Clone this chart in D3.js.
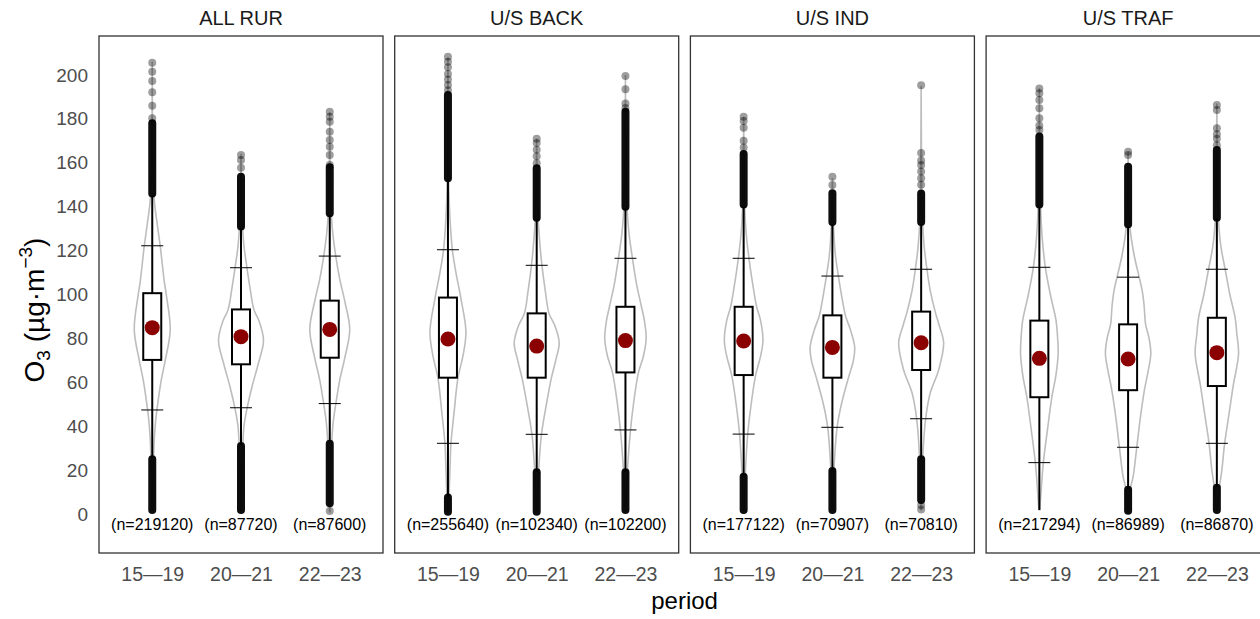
<!DOCTYPE html>
<html><head><meta charset="utf-8">
<script src="https://cdn.jsdelivr.net/npm/d3@7"></script>
<style>html,body{margin:0;padding:0;background:#fff;}svg{display:block;font-family:"Liberation Sans",Arial,sans-serif;}</style>
</head><body><svg id="c" width="1260" height="619"></svg>
<script>
const panels = ["ALL RUR", "U/S BACK", "U/S IND", "U/S TRAF"];
const periods = ["15—19", "20—21", "22—23"];
const yTicks = [0, 20, 40, 60, 80, 100, 120, 140, 160, 180, 200];
const nCounts = [[219120, 87720, 87600], [255640, 102340, 102200], [177122, 70907, 70810], [217294, 86989, 86870]];
const q1 = [[70.2, 68.2, 71.2], [62.1, 62.1, 64.5], [63.3, 62.1, 65.6], [53.2, 56.4, 58.3]];
const q3 = [[100.6, 93.2, 97.2], [98.6, 91.4, 94.4], [94.4, 90.5, 92.2], [88.1, 86.4, 89.4]];
const means = [[84.9, 80.8, 84.1], [79.7, 76.5, 79.0], [78.8, 75.9, 78.0], [70.9, 70.6, 73.5]];
const p05 = [[47.4, 48.4, 50.3], [32.2, 36.3, 38.3], [36.4, 39.5, 43.4], [23.4, 30.4, 32.2]];
const p95 = [[122.2, 112.2, 117.5], [120.4, 113.3, 116.5], [116.5, 108.4, 111.5], [112.4, 107.9, 111.5]];
const whiskerLo = [[25.5, 31.4, 32.7], [7.9, 19.3, 19.3], [17.3, 20, 25.4], [1.8, 11.4, 12.4]];
const whiskerHi = [[145.3, 130.1, 136.2], [152.2, 133.9, 139.3], [140, 132.1, 132.1], [140, 130.9, 134.6]];
// dense runs of outliers [low, high]
const upperRuns = [[[146, 178], [131, 153.7], [137, 158]], [[153, 190.9], [135, 157.5], [140, 183.3]], [[141, 164], [133, 146.1], [133, 146]], [[141, 172], [132, 158.2], [135, 165.8]]];
const lowerRuns = [[[1.8, 25], [1.8, 31], [4.9, 32]], [[1, 7.5], [1, 19], [1.8, 19]], [[1.8, 17], [1.8, 19.6], [6.4, 25]], [null, [1.5, 11], [1.8, 12]]];
const upperSparse = [
  [[205.6, 201.5, 197.3, 192.1, 186, 180.3], [163.5, 161.3, 157.8], [183.3, 181, 178.7, 174.2, 170.4, 167.3, 163.6, 159]],
  [[208.3, 206, 203.5, 200.5, 198, 195.5, 193], [171, 169, 166, 163, 159.8], [199.5, 193.5, 187, 185]],
  [[181, 179, 176, 170, 167], [153.7, 149.9], [195.3, 164.5, 161, 159, 156, 153, 150]],
  [[193.9, 191.7, 188.6, 184.8, 180.3, 177, 175], [165, 163.6], [186.3, 184, 175.7, 173, 171, 168]]
];
const lowerSparse = [[[], [], [1.4]], [[], [], []], [[], [], [4, 2]], [[], [], []]];
// violin outlines: [value, relative density]
const violinAllRur = [
  [[2, 0.3], [20, 1], [34, 2], [43, 3.5], [52, 6], [61, 9], [70, 13], [84, 18], [100, 14], [106, 12], [122, 8], [132, 5], [143, 2], [160, 0.6], [180, 0.2], [206, 0]],
  [[2, 0.3], [20, 1], [31, 1.8], [40, 3], [48, 6], [58, 11], [68, 17], [79, 22.5], [88, 18], [93, 13], [103, 9], [112, 6], [122, 3], [131, 1.5], [145, 0.5], [164, 0]],
  [[1, 0.2], [20, 1], [33, 2], [42, 3.5], [50, 6], [61, 10], [71, 15], [84, 20], [97, 15], [107, 10], [117.5, 6], [128, 3], [137, 1.5], [160, 0.4], [183, 0]]
];
const violinBack = [
  [[1, 0.3], [8, 1], [20, 2], [32, 3], [47, 6.3], [62, 10], [72, 15], [83, 18], [98.6, 12.8], [110, 8], [120, 4.5], [135, 2], [152, 0.7], [175, 0.3], [208, 0]],
  [[1, 0.3], [10, 1], [20, 2], [36, 4.7], [50, 9.7], [62, 14.7], [70, 19], [78, 22.5], [86, 18], [91.4, 12.3], [102, 8.5], [113, 5.3], [124, 3], [134, 1.5], [150, 0.5], [171, 0]],
  [[1, 0.3], [10, 1], [20, 2], [38, 5], [50, 8], [64.5, 13], [72, 18], [80, 20.7], [88, 19], [94.4, 16], [105, 11], [116.5, 7], [128, 3.5], [140, 1.5], [160, 0.5], [200, 0]]
];
const violinInd = [
  [[2, 0.3], [17, 1.5], [36, 4], [50, 7.5], [63.3, 12], [72, 17], [79, 19.3], [88, 17], [94.4, 13], [105, 9], [116.5, 5.3], [128, 2.5], [140, 1], [160, 0.4], [181, 0]],
  [[2, 0.3], [20, 1.5], [39.5, 4.7], [50, 9], [62, 16], [70, 21], [76, 22.3], [84, 18], [90.5, 13], [100, 9], [108.4, 6], [118, 3], [130, 1.2], [153, 0]],
  [[2, 0.3], [25, 1.5], [43.4, 4.5], [55, 9], [65.6, 17.5], [78, 22.5], [86, 18], [92.2, 14], [102, 9], [111.5, 5.8], [122, 3], [135, 1.2], [160, 0.4], [195, 0]]
];
const violinTraf = [
  [[2, 0.5], [12, 2], [23.4, 4], [38, 8], [53.2, 12.5], [63, 16.5], [73, 18.8], [82, 18], [88.1, 16.7], [100, 11], [112.4, 6], [125, 3], [140, 1.2], [165, 0.4], [194, 0]],
  [[1, 0.3], [11, 2], [17, 5], [30.4, 8.7], [43, 12], [56.4, 16.3], [65, 20], [73, 22.7], [80, 21], [86.4, 17.5], [95, 16], [102, 14], [108, 11], [118, 6], [130, 2], [145, 0.6], [165, 0]],
  [[2, 0.3], [12, 2.5], [20, 5], [32.2, 7.8], [45, 12], [58.3, 16.3], [73, 21.7], [82, 20], [89.4, 18.3], [100, 13], [111.5, 8.3], [122, 4], [135, 1.5], [160, 0.5], [187, 0]]
];
const violins = [violinAllRur, violinBack, violinInd, violinTraf];

const svg = d3.select("#c");
const panelLeft0 = 99, panelW = 284, panelStep = 295.7, panelTop = 36, panelBottom = 553;
const y = d3.scaleLinear().domain([0, 200]).range([514, 75]);
const w = d3.scaleLinear().domain([0, 1]).range([0, 1]);
const fx = d3.scaleBand().domain(panels).range([panelLeft0, panelLeft0 + panelStep * 4]).paddingInner(0).paddingOuter(0);

// y axis labels
const yAxis = d3.axisLeft(y).tickValues(yTicks).tickSize(0).tickPadding(11);
const ga = svg.append("g").attr("transform", `translate(${panelLeft0},0)`).call(yAxis);
ga.select(".domain").remove();
ga.selectAll("text").attr("font-size", 19).attr("fill", "#4d4d4d").attr("font-family", "Liberation Sans, Arial, sans-serif");

panels.forEach((p, pi) => {
  const left = fx(p);
  const x = d3.scalePoint().domain(periods).range([left, left + panelW]).padding(0.6);
  const g = svg.append("g");
  g.append("text").attr("x", left + panelW / 2).attr("y", 25).attr("text-anchor", "middle")
    .attr("font-size", 20).attr("fill", "#1a1a1a").text(p);
  // x axis
  const xa = g.append("g").attr("transform", `translate(0,${panelBottom})`)
    .call(d3.axisBottom(x).tickSize(0).tickPadding(14));
  xa.select(".domain").remove();
  xa.selectAll("text").attr("font-size", 19.5).attr("fill", "#4d4d4d").attr("font-family", "Liberation Sans, Arial, sans-serif");

  periods.forEach((per, ci) => {
    const cx = x(per);
    const prof = violins[pi][ci];
    const area = d3.area().curve(d3.curveCatmullRom.alpha(0.5))
      .y(d => y(d[0])).x0(d => cx - w(d[1])).x1(d => cx + w(d[1]));
    g.append("path").attr("d", area(prof)).attr("fill", "none")
      .attr("stroke", "#bdbdbd").attr("stroke-width", 1.6);
    // whisker
    g.append("line").attr("x1", cx).attr("x2", cx)
      .attr("y1", y(whiskerLo[pi][ci])).attr("y2", y(whiskerHi[pi][ci]))
      .attr("stroke", "#000").attr("stroke-width", 2);
    // crossbars
    [p05[pi][ci], p95[pi][ci]].forEach(v => {
      g.append("line").attr("x1", cx - 11).attr("x2", cx + 11).attr("y1", y(v)).attr("y2", y(v))
        .attr("stroke", "#000").attr("stroke-width", 1);
    });
    // outliers dense runs
    [upperRuns[pi][ci], lowerRuns[pi][ci]].forEach(r => {
      if (!r) return;
      g.append("rect").attr("x", cx - 4).attr("width", 8)
        .attr("y", y(r[1]) - 4).attr("height", y(r[0]) - y(r[1]) + 8)
        .attr("rx", 4).attr("fill", "#000").attr("fill-opacity", 0.95);
    });
    upperSparse[pi][ci].concat(lowerSparse[pi][ci]).forEach(v => {
      g.append("circle").attr("cx", cx).attr("cy", y(v)).attr("r", 4)
        .attr("fill", "#000").attr("fill-opacity", 0.38);
    });
    // box
    g.append("rect").attr("x", cx - 9).attr("width", 18)
      .attr("y", y(q3[pi][ci])).attr("height", y(q1[pi][ci]) - y(q3[pi][ci]))
      .attr("fill", "#fff").attr("stroke", "#000").attr("stroke-width", 2);
    // mean
    g.append("circle").attr("cx", cx).attr("cy", y(means[pi][ci])).attr("r", 7.5).attr("fill", "#8b0000");
    // n label
    g.append("text").attr("x", cx).attr("y", 530).attr("text-anchor", "middle")
      .attr("font-size", 16).attr("fill", "#000").text(`(n=${nCounts[pi][ci]})`);
  });
  g.append("rect").attr("x", left).attr("y", panelTop).attr("width", panelW).attr("height", panelBottom - panelTop)
    .attr("fill", "none").attr("stroke", "#333").attr("stroke-width", 1.3);
});

// axis titles
svg.append("text").attr("x", panelLeft0 + (panelStep * 3 + panelW) / 2).attr("y", 609).attr("text-anchor", "middle")
  .attr("font-size", 24).attr("fill", "#000").text("period");
const yt = svg.append("text").attr("transform", "translate(44,310) rotate(-90)").attr("text-anchor", "middle")
  .attr("font-size", 28).attr("fill", "#000");
yt.append("tspan").text("O");
yt.append("tspan").attr("font-size", 19).attr("dy", 6).text("3");
yt.append("tspan").attr("dy", -6).text(" (µg·m");
yt.append("tspan").attr("font-size", 19).attr("dy", -12).text("−3");
yt.append("tspan").attr("dy", 12).text(")");
</script></body></html>
